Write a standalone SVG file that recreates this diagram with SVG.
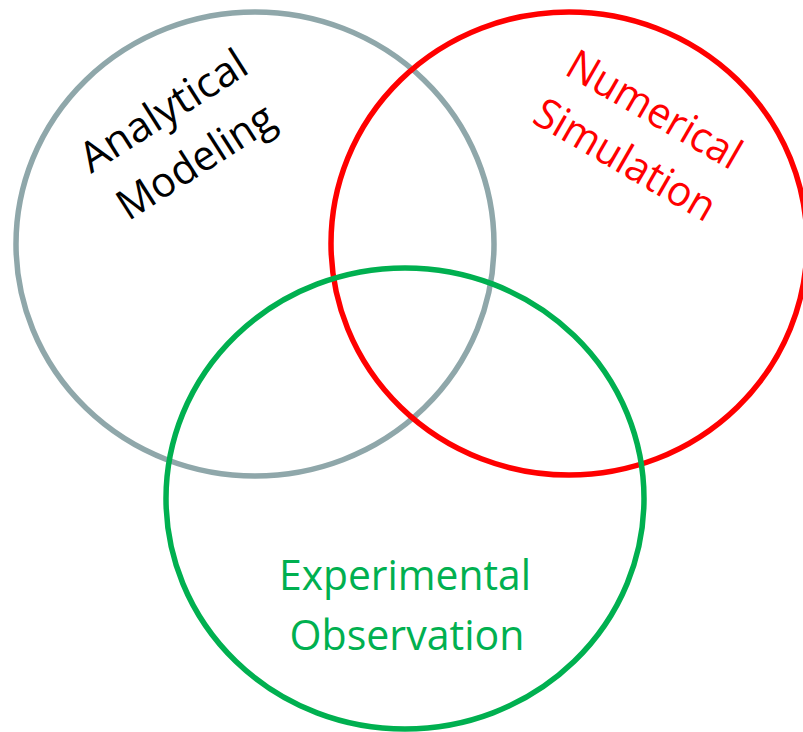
<svg xmlns="http://www.w3.org/2000/svg" width="803" height="732" viewBox="0 0 803 732">
  <style>
    .ring { fill: none; stroke-width: 5.5; }
    .label { font-family: "Open Sans", "Noto Sans", "Liberation Sans", sans-serif; font-size: 42px; text-anchor: middle; }
  </style>
  <rect width="803" height="732" fill="#ffffff"/>
  <g id="analytical-modeling">
    <ellipse class="ring" cx="255" cy="244" rx="239" ry="232" stroke="#8FA7AA"/>
    <g transform="translate(171,123) rotate(-32.5)">
      <text class="label" x="0" y="0" fill="#000000" textLength="190" lengthAdjust="spacingAndGlyphs">Analytical</text>
      <text class="label" x="0" y="60" fill="#000000" textLength="178" lengthAdjust="spacingAndGlyphs">Modeling</text>
    </g>
  </g>
  <g id="numerical-simulation">
    <ellipse class="ring" cx="569" cy="243.5" rx="238" ry="231.5" stroke="#FF0000"/>
    <g transform="translate(647,122) rotate(30)">
      <text class="label" x="0" y="0" fill="#FF0000" textLength="194" lengthAdjust="spacingAndGlyphs">Numerical</text>
      <text class="label" x="0" y="58" fill="#FF0000" textLength="202" lengthAdjust="spacingAndGlyphs">Simulation</text>
    </g>
  </g>
  <g id="experimental-observation">
    <ellipse class="ring" cx="405" cy="498.5" rx="239" ry="230.5" stroke="#00B050"/>
    <text class="label" x="405" y="590" fill="#00B050" textLength="252" lengthAdjust="spacingAndGlyphs">Experimental</text>
    <text class="label" x="407" y="650" fill="#00B050" textLength="235" lengthAdjust="spacingAndGlyphs">Observation</text>
  </g>
  <g id="connectors"/>
</svg>
